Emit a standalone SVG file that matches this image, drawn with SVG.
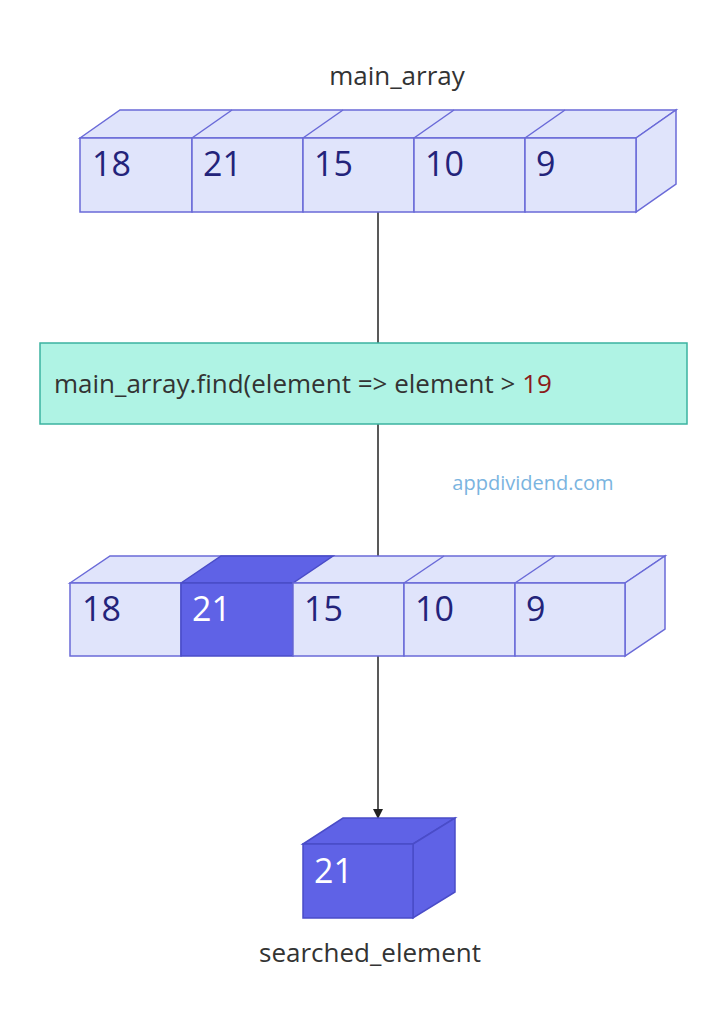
<svg xmlns="http://www.w3.org/2000/svg" width="727" height="1024" viewBox="0 0 727 1024">
<style>
text{font-family:"Open Sans","Liberation Sans",sans-serif}
.c{fill:#e0e4fb;stroke:#6a6ad8;stroke-width:1.5}
.d{fill:#5f62e6;stroke:#4a4cc8;stroke-width:1.5}
.n{font-size:34px;fill:#23237a}
.w{font-size:34px;fill:#fff}
.l{font-size:26px;fill:#333}
.e{stroke:#222;stroke-width:1.5;fill:none}
</style>
<defs><marker id="a" markerWidth="10" markerHeight="10" refX="9" refY="5" orient="auto" markerUnits="userSpaceOnUse"><path d="M0,0L10,5L0,10z" fill="#222"/></marker></defs>
<g id="connectors">
<line class="e" x1="378" y1="212" x2="378" y2="343"/>
<line class="e" x1="378" y1="424" x2="378" y2="556"/>
<line class="e" x1="378" y1="656" x2="378" y2="818" marker-end="url(#a)"/>
</g>
<g id="main_array">
<text class="l" x="397" y="85" text-anchor="middle">main_array</text>
<path class="c" d="M80,138L120,110H676L636,138Z"/>
<path class="c" d="M636,138L676,110V184L636,212Z"/>
<g class="c"><line x1="192" y1="138" x2="232" y2="110"/><line x1="303" y1="138" x2="343" y2="110"/><line x1="414" y1="138" x2="454" y2="110"/><line x1="525" y1="138" x2="565" y2="110"/></g>
<rect class="c" x="80" y="138" width="112" height="74"/><rect class="c" x="192" y="138" width="111" height="74"/><rect class="c" x="303" y="138" width="111" height="74"/><rect class="c" x="414" y="138" width="111" height="74"/><rect class="c" x="525" y="138" width="111" height="74"/>
<text class="n" x="92" y="176">18</text><text class="n" x="203" y="176">21</text><text class="n" x="314" y="176">15</text><text class="n" x="425" y="176">10</text><text class="n" x="536" y="176">9</text>
</g>
<g id="find">
<rect x="40" y="343" width="647" height="81" fill="#aff3e4" stroke="#3bb3a0" stroke-width="1.5"/>
<text x="54" y="393" font-size="26" fill="#333">main_array.find(element =&gt; element &gt; <tspan fill="#8b1a1a">19</tspan></text>
</g>
<text x="533" y="490" font-size="20" fill="#7ab4e0" text-anchor="middle">appdividend.com</text>
<g id="result_array">
<path class="c" d="M70,583L110,556H665L625,583Z"/>
<path class="d" d="M181,583L221,556H333L293,583Z"/>
<path class="c" d="M625,583L665,556V629L625,656Z"/>
<g class="c"><line x1="404" y1="583" x2="444" y2="556"/><line x1="515" y1="583" x2="555" y2="556"/></g>
<rect class="c" x="70" y="583" width="111" height="73"/><rect class="d" x="181" y="583" width="112" height="73"/><rect class="c" x="293" y="583" width="111" height="73"/><rect class="c" x="404" y="583" width="111" height="73"/><rect class="c" x="515" y="583" width="110" height="73"/>
<text class="n" x="82" y="621">18</text><text class="w" x="192" y="621">21</text><text class="n" x="304" y="621">15</text><text class="n" x="415" y="621">10</text><text class="n" x="526" y="621">9</text>
</g>
<g id="searched_element">
<path class="d" d="M303,844L343,818H455L413,844Z"/>
<path class="d" d="M413,844L455,818V892L413,918Z"/>
<rect class="d" x="303" y="844" width="110" height="74"/>
<text class="w" x="314" y="883">21</text>
<text class="l" x="370" y="962" text-anchor="middle">searched_element</text>
</g>
</svg>
